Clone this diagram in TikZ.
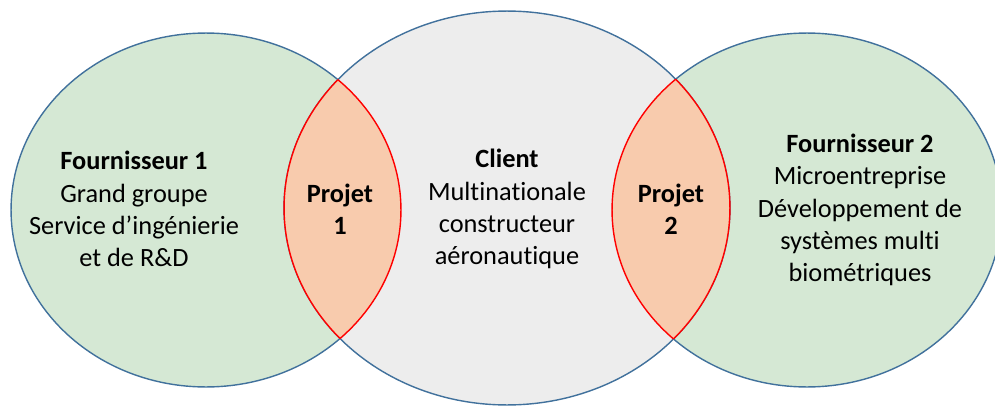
\documentclass[tikz,border=0pt]{standalone}
\usepackage{fontspec}
\setmainfont{Carlito}[Ligatures=NoCommon]
\usetikzlibrary{shapes.geometric}
\definecolor{suppfill}{HTML}{D5E8D4}
\definecolor{clientfill}{HTML}{EDEDED}
\definecolor{projfill}{HTML}{F8CBAD}
\definecolor{ringline}{HTML}{41719C}
\begin{document}
\begin{tikzpicture}[
    x=0.02cm, y=-0.02cm,
    font=\fontsize{15}{18.3}\selectfont,
    supring/.style={ellipse, draw=ringline, line width=0.8pt, inner sep=0pt, fill=suppfill, minimum width=7.8cm, minimum height=7.08cm},
    clientring/.style={ellipse, draw=ringline, line width=0.8pt, inner sep=0pt, fill=clientfill, minimum width=8.92cm, minimum height=7.88cm},
    lensline/.style={draw=red, line width=0.8pt},
    txt/.style={align=center}
]
\useasboundingbox (0,0) rectangle (995,406);

% the three rings
\node[supring] (sup1) at (206,210) {};
\node[supring] (sup2) at (807,210) {};
\node[clientring] (client) at (507,208) {};

% project overlaps
\begin{scope}
  \clip (sup1.center) ellipse [x radius=3.9cm, y radius=3.54cm];
  \fill[projfill] (client.center) ellipse [x radius=4.46cm, y radius=3.94cm];
  \draw[lensline] (client.center) ellipse [x radius=4.46cm, y radius=3.94cm];
\end{scope}
\begin{scope}
  \clip (client.center) ellipse [x radius=4.46cm, y radius=3.94cm];
  \draw[lensline] (sup1.center) ellipse [x radius=3.9cm, y radius=3.54cm];
\end{scope}
\begin{scope}
  \clip (sup2.center) ellipse [x radius=3.9cm, y radius=3.54cm];
  \fill[projfill] (client.center) ellipse [x radius=4.46cm, y radius=3.94cm];
  \draw[lensline] (client.center) ellipse [x radius=4.46cm, y radius=3.94cm];
\end{scope}
\begin{scope}
  \clip (client.center) ellipse [x radius=4.46cm, y radius=3.94cm];
  \draw[lensline] (sup2.center) ellipse [x radius=3.9cm, y radius=3.54cm];
\end{scope}

% labels
\node[txt] (lab1) at (134,209) {\textbf{Fournisseur 1}\\Grand groupe\\Service d’ingénierie\\et de R\&D};
\node[txt] (labc) at (507,209) {\textbf{Client}\\Multinationale\\constructeur\\aéronautique};
\node[txt, font=\fontsize{15}{18.3}\selectfont\bfseries] (proj1) at (340,209) {Projet\\1};
\node[txt, font=\fontsize{15}{18.3}\selectfont\bfseries] (proj2) at (671,209) {Projet\\2};
\node[txt] (lab2) at (860,210) {\textbf{Fournisseur 2}\\Microentreprise\\Développement de\\systèmes multi\\biométriques};

\end{tikzpicture}
\end{document}
